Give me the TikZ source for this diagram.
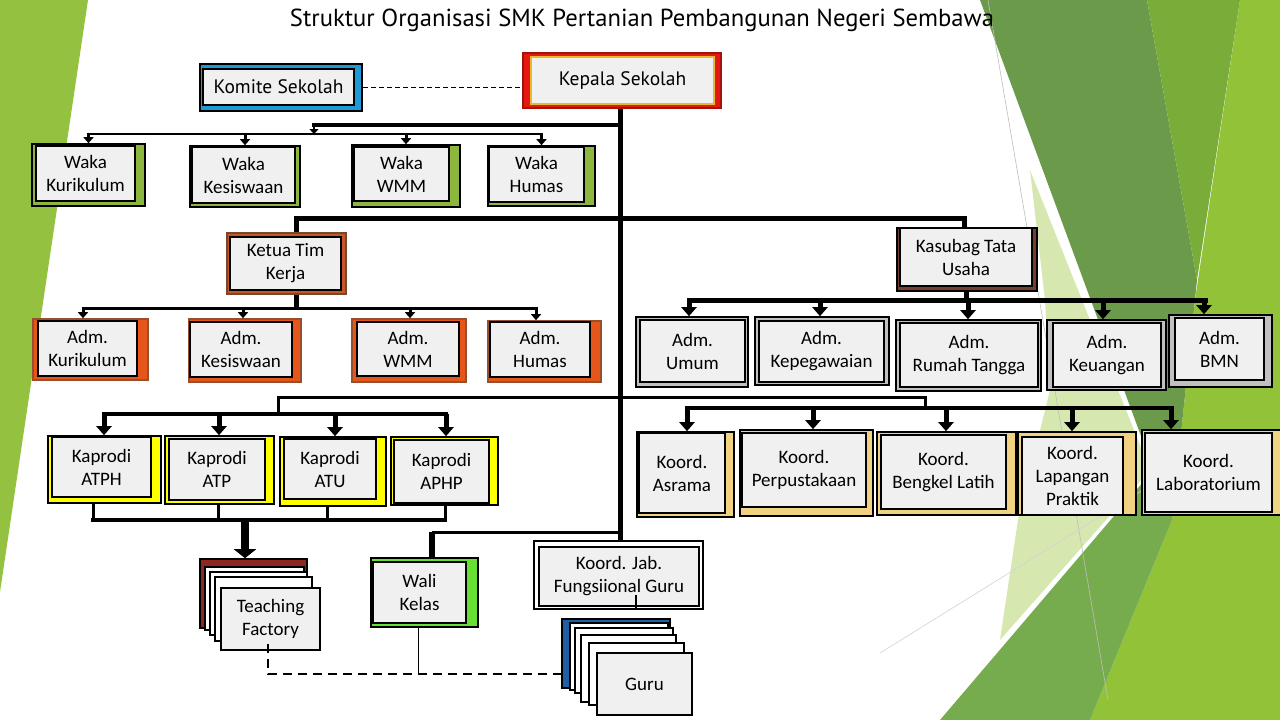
\documentclass[tikz,border=0pt]{standalone}
\usepackage{fontspec}
\setmainfont{Carlito}
\newfontfamily\titlefont{PT Sans}
\usetikzlibrary{arrows.meta,fit}
\definecolor{inbg}{RGB}{240,240,240}
\definecolor{lgreen}{RGB}{148,194,64}
\definecolor{brightg}{RGB}{146,194,56}
\definecolor{midg}{RGB}{122,172,58}
\definecolor{darkg}{RGB}{106,154,74}
\definecolor{medg}{RGB}{118,172,78}
\definecolor{paleg}{RGB}{214,232,176}
\definecolor{wakag}{RGB}{140,182,62}
\definecolor{kred}{RGB}{228,24,16}
\definecolor{kdred}{RGB}{160,20,10}
\definecolor{kgold}{RGB}{232,184,48}
\definecolor{kblue}{RGB}{30,155,215}
\definecolor{ketuac}{RGB}{196,89,40}
\definecolor{ketuab}{RGB}{120,70,45}
\definecolor{admor}{RGB}{230,85,25}
\definecolor{admbr}{RGB}{150,80,45}
\definecolor{kasbr}{RGB}{120,62,45}
\definecolor{rgray}{RGB}{192,192,192}
\definecolor{kyel}{RGB}{255,255,0}
\definecolor{ktan}{RGB}{240,210,130}
\definecolor{wgreen}{RGB}{102,224,51}
\definecolor{tfred}{RGB}{140,40,30}
\definecolor{gblue}{RGB}{31,95,165}
\definecolor{bgline}{RGB}{190,190,190}
\tikzset{
  rim/.style={draw=black, line width=1.6pt, fill=#1, inner sep=0pt},
  inbox/.style={draw=black, line width=1.6pt, fill=inbg, inner sep=0pt},
  txt/.style={inner sep=0pt, align=center, font=\fontsize{19}{23}\selectfont},
  paper/.style={draw=black, line width=1.4pt, fill=white, inner sep=0pt},
  busline/.style={draw=black, line width=#1, line cap=rect},
  arrsm/.style={line width=3pt, -{Triangle[length=6pt,width=10pt]}},
  arrbig/.style={line width=5pt, -{Triangle[length=9pt,width=15pt]}},
  arrhuge/.style={line width=8pt, -{Triangle[length=9pt,width=22pt]}},
  dsh/.style={draw=black, line width=2pt, dash pattern=on 9pt off 6pt},
}
\newcommand\obox[7]{%
  \node[#6, fit={(#2)(#3)}] (#1-o) {};
  \node[inbox, fit={(#4)(#5)}] (#1) {};
  \node[txt] (#1-t) at (#1.center) {#7};}
\newcommand\drop[4]{%
  \coordinate (dp-#4) at (#2,#3);
  \draw[#1] (dp-#4) -- (dp-#4 |- #4.north);}
\newcommand\kfont{\titlefont\fontsize{19.5}{23}\selectfont}
\begin{document}
\begin{tikzpicture}[x=1pt,y=-1pt]
\useasboundingbox (0,0) rectangle (1280,720);
\fill[white] (0,0) rectangle (1280,720);
% background facets
\fill[lgreen] (0,0) -- (88,0) -- (0,592) -- cycle;
\fill[paleg] (1030,170) -- (1150,470) -- (1000,640) -- (1018,520) -- (1050,390) -- (1045,300) -- cycle;
\fill[brightg] (1240,0) -- (1280,0) -- (1280,720) -- (1090,720) -- (1172,520) -- (1195,300) -- cycle;
\fill[darkg] (980,0) -- (1147,0) -- (1197,280) -- (1172,520) -- cycle;
\fill[midg] (1147,0) -- (1240,0) -- (1197,280) -- cycle;
\fill[medg] (940,720) -- (1090,720) -- (1172,520) -- (1155,468) -- cycle;
\draw[bgline, line width=0.6pt] (988,0) -- (1108,700);
\draw[bgline!70, line width=0.6pt] (880,653) -- (1175,470);
% title
\node (title) at (642,20) {\resizebox{704pt}{!}{\titlefont\fontsize{22}{26}\selectfont Struktur Organisasi SMK Pertanian Pembangunan Negeri Sembawa}};
% ---------------- coordinates ----------------
\coordinate (tr) at (620,0);
\coordinate (wb) at (314,125);
\coordinate (wb2) at (314,134);
\coordinate (kt) at (296,218);
\coordinate (ks) at (964,218);
\coordinate (ab) at (296,308);
\coordinate (kb) at (966,300);
\coordinate (m1) at (278,397);
\coordinate (m2) at (925,397);
\coordinate (kpb) at (278,414);
\coordinate (kob) at (925,408);
\coordinate (tfb) at (245,520);
\coordinate (wl) at (432,532);
% ---------------- boxes ----------------
\node[fit={(523,53)(721,108)}, fill=kred, draw=kdred, line width=1.6pt, inner sep=0pt] (kepala-o) {};
\node[fit={(531,57)(714,104)}, fill=inbg, draw=kgold, line width=2pt, inner sep=0pt] (kepala) {};
\node[inner sep=0pt, font=\kfont] (kepala-t) at (kepala.center) {Kepala Sekolah};
\obox{komite}{200,64}{362,111}{203,69}{354,105}{rim=kblue}{\kfont Komite Sekolah}
% Waka
\obox{wk1}{32,144}{145,206}{36,146}{135,201}{rim=wakag}{Waka\\Kurikulum}
\obox{wk2}{190,146}{300,207}{192,147}{295,203}{rim=wakag}{Waka\\Kesiswaan}
\obox{wk3}{352,145}{460,207}{354,147}{449,201}{rim=wakag}{Waka\\WMM}
\obox{wk4}{488,146}{595,206}{489,147}{584,202}{rim=wakag}{Waka\\Humas}
% Ketua & Kasubag
\obox{ketua}{227,233}{346,294}{230,237}{341,290}{rim=ketuac, draw=ketuab}{Ketua Tim\\Kerja}
\obox{kasubag}{897,228}{1037,291}{900,228}{1032,286}{rim=kasbr}{Kasubag Tata\\Usaha}
% Adm (left)
\obox{ad1}{33,319}{148,380}{38,321}{137,376}{rim=admor, draw=admbr}{Adm.\\Kurikulum}
\obox{ad2}{189,319}{301,382}{190,322}{292,377}{rim=admor, draw=admbr}{Adm.\\Kesiswaan}
\obox{ad3}{352,319}{466,382}{357,322}{459,376}{rim=admor, draw=admbr}{Adm.\\WMM}
\obox{ad4}{488,321}{601,382}{490,322}{590,377}{rim=admor, draw=admbr}{Adm.\\Humas}
% Adm (right)
\obox{ru1}{636,317}{748,387}{640,320}{745,382}{rim=rgray}{Adm.\\Umum}
\obox{ru2}{755,317}{889,385}{759,321}{884,382}{rim=rgray}{Adm.\\Kepegawaian}
\obox{ru3}{896,320}{1041,391}{900,323}{1038,387}{rim=rgray}{Adm.\\Rumah Tangga}
\obox{ru4}{1047,320}{1166,390}{1053,323}{1161,387}{rim=rgray}{Adm.\\Keuangan}
\obox{ru5}{1169,315}{1272,387}{1175,318}{1264,380}{rim=rgray}{Adm.\\BMN}
% Kaprodi
\obox{kp1}{48,436}{161,503}{52,437}{151,497}{rim=kyel}{Kaprodi\\ATPH}
\obox{kp2}{165,436}{274,504}{169,439}{265,500}{rim=kyel}{Kaprodi\\ATP}
\obox{kp3}{280,437}{386,506}{284,439}{376,499}{rim=kyel}{Kaprodi\\ATU}
\obox{kp4}{391,437}{498,505}{394,440}{489,503}{rim=kyel}{Kaprodi\\APHP}
% Koord
\obox{ko1}{637,432}{734,517}{639,433}{725,513}{rim=ktan}{Koord.\\Asrama}
\obox{ko2}{740,430}{873,516}{742,433}{866,507}{rim=ktan}{Koord.\\Perpustakaan}
\obox{ko3}{877,432}{1016,515}{881,435}{1006,509}{rim=ktan}{Koord.\\Bengkel Latih}
\obox{ko4}{1018,432}{1136,515}{1022,437}{1123,515}{rim=ktan}{Koord.\\Lapangan\\Praktik}
\obox{ko5}{1142,430}{1284,515}{1145,433}{1272,512}{rim=ktan}{Koord.\\Laboratorium}
% Wali, Koord Jab
\obox{wali}{371,558}{478,627}{373,562}{466,623}{rim=wgreen}{Wali\\Kelas}
\obox{kjab}{534,541}{703,609}{539,547}{699,606}{rim=white}{Koord. Jab.\\Fungsiional Guru}
% Teaching Factory stack
\node[rim=tfred, fit={(200,559)(307,628)}] (tfback) {};
\node[paper, fit={(205,567)(304,630)}] (tfp1) {};
\node[paper, fit={(210,572)(307,635)}] (tfp2) {};
\node[paper, fit={(215,577)(312,641)}] (tfp3) {};
\node[inbox, fit={(221,588)(320,650)}] (tf) {};
\node[txt] (tf-t) at (tf.center) {Teaching\\Factory};
% Guru stack
\node[rim=gblue, fit={(562,619)(670,688)}] (gback) {};
\node[paper, fit={(570,623)(668,690)}] (gp1) {};
\node[paper, fit={(575,628)(673,693)}] (gp2) {};
\node[paper, fit={(581,635)(676,702)}] (gp3) {};
\node[paper, fit={(589,643)(684,705)}] (gp4) {};
\node[inbox, fit={(597,653)(692,715)}] (guru) {};
\node[txt] (guru-t) at (guru.center) {Guru};

% ---------------- connectors ----------------
% trunk
\draw[line width=5pt] (kepala-o.south -| tr) -- (kjab-o.north -| tr);
% Komite dashed
\draw[line width=1.5pt, dash pattern=on 5pt off 3pt] (komite-o.east) -- (komite-o.east -| kepala-o.west);
% Waka
\draw[busline=4pt] (wb -| tr) -- (wb);
\draw[line width=2.5pt, -{Triangle[length=5pt,width=9pt]}] (wb) -- (wb2);
\draw[busline=2.5pt] (wk1-o.north |- wb2) -- (wk4-o.north |- wb2);
\foreach \n in {wk1,wk2,wk3,wk4} \draw[arrsm] (\n-o.north |- wb2) -- (\n-o.north);
% Ketua / Kasubag
\draw[line width=5pt] (kt |- ketua-o.north) -- (kt) -- (ks) -- (ks |- kasubag-o.north);
\draw[line width=5pt] (kt |- ketua-o.south) -- (ab);
\draw[busline=3pt] (83,308) -- (536,308);
\drop{arrsm}{83}{308}{ad1-o}
\drop{arrsm}{243}{308}{ad2-o}
\drop{arrsm}{410}{308}{ad3-o}
\drop{arrsm}{536}{308}{ad4-o}
\draw[line width=5pt] (kasubag-o.south -| kb) -- (kb);
\draw[busline=5pt] (689,300) -- (1205,300);
\drop{arrbig}{689}{300}{ru1-o}
\drop{arrbig}{820}{300}{ru2-o}
\drop{arrbig}{968}{300}{ru3-o}
\drop{arrbig}{1103}{300}{ru4-o}
\drop{arrbig}{1204}{300}{ru5-o}
% middle line
\draw[busline=3pt] (m1) -- (m2);
\draw[line width=3pt] (m1) -- (kpb);
\draw[line width=3pt] (m2) -- (kob);
\draw[busline=4pt] (104,414) -- (446,414);
\drop{arrbig}{104}{414}{kp1-o}
\drop{arrbig}{219}{414}{kp2-o}
\drop{arrbig}{335}{414}{kp3-o}
\drop{arrbig}{446}{414}{kp4-o}
\draw[busline=4pt] (687,408) -- (1172,408);
\drop{arrbig}{687}{408}{ko1-o}
\drop{arrbig}{813}{408}{ko2-o}
\drop{arrbig}{946}{408}{ko3-o}
\drop{arrbig}{1072}{408}{ko4-o}
\drop{arrbig}{1171}{408}{ko5-o}
% Kaprodi to Teaching Factory
\coordinate (q1) at (93,520);
\coordinate (q2) at (218,520);
\coordinate (q3) at (327,520);
\coordinate (q4) at (445,520);
\draw[line width=3pt] (q1 |- kp1-o.south) -- (q1);
\draw[line width=3pt] (q2 |- kp2-o.south) -- (q2);
\draw[line width=3pt] (q3 |- kp3-o.south) -- (q3);
\draw[line width=3pt] (q4 |- kp4-o.south) -- (q4);
\draw[busline=4pt] (q1) -- (q4);
\draw[arrhuge] (tfb) -- (tfb |- tfback.north);
% Wali
\draw[line width=3pt] (wl -| tr) -- (wl);
\draw[line width=6pt] (wl) -- (wl |- wali-o.north);
% Koord Jab tick
\coordinate (kj) at (636,595);
\draw[line width=1.5pt] (kj) -- (kj |- kjab-o.south);
% dashed relations
\coordinate (dj) at (268,674);
\coordinate (wd) at (418,674);
\draw[dsh] ([yshift=7pt]dj |- tf.south) -- (dj) -- (dj -| gback.west);
\draw[line width=0.8pt] (wd |- wali-o.south) -- (wd);
\end{tikzpicture}
\end{document}
